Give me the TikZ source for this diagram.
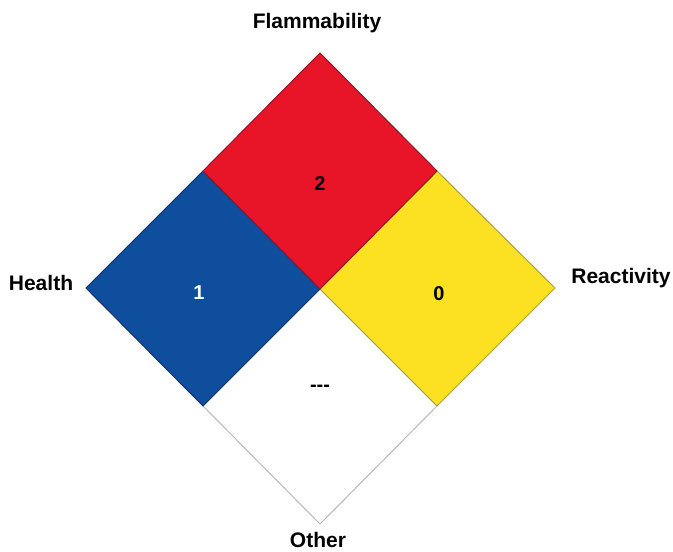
\documentclass[tikz,border=0pt]{standalone}
\usepackage{fontspec}
\setmainfont{Liberation Sans}
\begin{document}
\begin{tikzpicture}[x=1pt,y=-1pt,
  lbl/.style={font=\fontsize{21}{24}\selectfont\bfseries,inner sep=0pt},
  num/.style={font=\fontsize{20}{24}\selectfont\bfseries,inner sep=0pt},
  quad/.style={line width=1pt,line join=miter}]
\definecolor{nred}{RGB}{232,20,40}
\definecolor{nredb}{RGB}{150,20,40}
\definecolor{nblue}{RGB}{14,78,156}
\definecolor{nblueb}{RGB}{20,50,100}
\definecolor{nyel}{RGB}{252,224,34}
\definecolor{nyelb}{RGB}{170,160,60}
\definecolor{ngray}{RGB}{185,185,185}
\useasboundingbox (0,0) rectangle (673,552);
\coordinate (T) at (320,53);
\coordinate (L) at (86,288);
\coordinate (R) at (555,288);
\coordinate (B) at (320,524);
\coordinate (C) at (320,289);
\coordinate (TL) at (203,171);
\coordinate (TR) at (437,171);
\coordinate (BR) at (437,406);
\coordinate (BL) at (203,406);
\draw[quad,fill=white,draw=ngray] (C) -- (BR) -- (B) -- (BL) -- cycle;
\draw[quad,fill=nyel,draw=nyelb] (C) -- (TR) -- (R) -- (BR) -- cycle;
\draw[quad,fill=nblue,draw=nblueb] (C) -- (TL) -- (L) -- (BL) -- cycle;
\draw[quad,fill=nred,draw=nredb] (C) -- (TL) -- (T) -- (TR) -- cycle;
\node[num] (n2) at (320,184) {2};
\node[num,white] (n1) at (199,293) {1};
\node[num] (n0) at (439,294) {0};
\node[num] (nd) at (320,388) {{-}{-}{-}};
\node[lbl] (flam) at (317,23) {Flammability};
\node[lbl] (health) at (41,283) {Health};
\node[lbl] (react) at (621,278) {Reactivity};
\node[lbl] (other) at (318,540) {Other};
\end{tikzpicture}
\end{document}
